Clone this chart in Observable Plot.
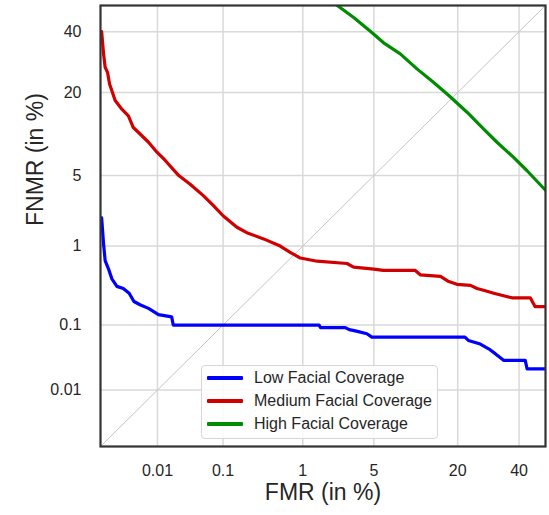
<!DOCTYPE html>
<html><head><meta charset="utf-8">
<script src="https://cdn.jsdelivr.net/npm/d3@7"></script>
<script src="https://cdn.jsdelivr.net/npm/@observablehq/plot@0.6"></script>
<style>
body{margin:0;background:#fff;font-family:"Liberation Sans",Arial,sans-serif;}
#wrap{position:relative;width:549px;height:515px;}
#legend{position:absolute;left:201px;top:365px;width:237px;height:74px;box-sizing:border-box;border:1px solid #d6d6d6;border-radius:4px;background:rgba(255,255,255,0.85);}
.row{position:absolute;left:0;height:20px;display:flex;align-items:center;font-size:16px;color:#262626;white-space:nowrap;}
.sw{display:inline-block;width:36px;height:4px;margin-left:5px;margin-right:11px;border-radius:1px;}
</style></head><body><div id="wrap"><div id="legend"></div></div>
<script>
// ---- data (percent) ----
const seriesNames = ["Low Facial Coverage", "Medium Facial Coverage", "High Facial Coverage"];
const seriesColors = ["#0000ff", "#d00000", "#008c00"];

const lowFMR  = [0.00105, 0.00114, 0.00122, 0.00141, 0.00162, 0.0020, 0.0026, 0.0033, 0.0040, 0.0051, 0.0071, 0.0104, 0.017, 0.018, 1.5, 1.55, 2.75, 3.0, 3.5, 4.35, 4.8, 22, 23, 26.6, 29.3, 31.5, 34.4, 42.3, 43, 50];
const lowFNMR = [2.0, 1.06, 0.68, 0.54, 0.41, 0.33, 0.31, 0.27, 0.21, 0.19, 0.17, 0.14, 0.13, 0.10, 0.10, 0.092, 0.092, 0.086, 0.082, 0.075, 0.067, 0.067, 0.060, 0.053, 0.045, 0.038, 0.030, 0.030, 0.022, 0.022];

const medFMR  = [0.00105, 0.00114, 0.00122, 0.00135, 0.00147, 0.00162, 0.00186, 0.00245, 0.0032, 0.0039, 0.0051, 0.0071, 0.0098, 0.0134, 0.022, 0.033, 0.052, 0.073, 0.10, 0.155, 0.21, 0.345, 0.55, 0.72, 0.94, 1.43, 2.85, 3.3, 5.0, 6.0, 10.6, 11.5, 15.7, 17.7, 19.8, 23.6, 25.6, 28.2, 31, 34.4, 37.4, 44.2, 46, 50];
const medFNMR = [40, 32, 27.5, 25.9, 22.4, 20.5, 17.9, 15.8, 14.3, 11.9, 10.7, 9.3, 7.8, 6.7, 5.0, 4.2, 3.3, 2.65, 2.1, 1.6, 1.4, 1.2, 1.0, 0.85, 0.73, 0.67, 0.63, 0.57, 0.54, 0.52, 0.52, 0.46, 0.44, 0.38, 0.35, 0.34, 0.31, 0.29, 0.27, 0.25, 0.235, 0.235, 0.18, 0.18];

const highFMR  = [2.3, 3.3, 4.8, 6.0, 8.2, 10.9, 14.2, 17.7, 22.6, 27.7, 32.1, 38, 43, 50];
const highFNMR = [50, 45.4, 39.7, 36, 32, 27, 22.8, 19.2, 15.1, 11.6, 9.3, 7.1, 5.5, 3.7];

const tickValues = [0.01, 0.1, 1, 5, 20, 40];
const tickLabels = ["0.01", "0.1", "1", "5", "20", "40"];
const axisDomain = [0.001, 50];
const diagonal = [0.001, 50];
const xLabel = "FMR (in %)";
const yLabel = "FNMR (in %)";

// ---- normal deviate (probit) transform for DET axes ----
function probit(p){
  const a=[-3.969683028665376e+01,2.209460984245205e+02,-2.759285104469687e+02,1.383577518672690e+02,-3.066479806614716e+01,2.506628277459239e+00];
  const b=[-5.447609879822406e+01,1.615858368580409e+02,-1.556989798598866e+02,6.680131188771972e+01,-1.328068155288572e+01];
  const c=[-7.784894002430293e-03,-3.223964580411365e-01,-2.400758277161838e+00,-2.549671010229583e+00,4.374664141464968e+00,2.938163982698783e+00];
  const d=[7.784695709041462e-03,3.224671290700398e-01,2.445134137142996e+00,3.754408661907416e+00];
  const pl=0.02425, ph=1-pl; let q, r;
  if (p < pl) { q=Math.sqrt(-2*Math.log(p)); return (((((c[0]*q+c[1])*q+c[2])*q+c[3])*q+c[4])*q+c[5])/((((d[0]*q+d[1])*q+d[2])*q+d[3])*q+1); }
  if (p > ph) { q=Math.sqrt(-2*Math.log(1-p)); return -(((((c[0]*q+c[1])*q+c[2])*q+c[3])*q+c[4])*q+c[5])/((((d[0]*q+d[1])*q+d[2])*q+d[3])*q+1); }
  q=p-0.5; r=q*q; return (((((a[0]*r+a[1])*r+a[2])*r+a[3])*r+a[4])*r+a[5])*q/(((((b[0]*r+b[1])*r+b[2])*r+b[3])*r+b[4])*r+1);
}
const P = v => probit(v / 100);

const fmrs = [lowFMR, medFMR, highFMR];
const fnmrs = [lowFNMR, medFNMR, highFNMR];
const rows = [];
seriesNames.forEach((n, i) => fmrs[i].forEach((f, j) => rows.push({series: n, fmr: f, fnmr: fnmrs[i][j]})));

const tickPos = tickValues.map(P);
const fmt = d => tickLabels[tickPos.findIndex(t => Math.abs(t - d) < 1e-9)];
const dom = axisDomain.map(P);

const chart = Plot.plot({
  width: 549, height: 515,
  marginLeft: 100, marginRight: 4, marginTop: 5, marginBottom: 69,
  style: {fontFamily: "'Liberation Sans', Arial, sans-serif", background: "white", color: "#262626"},
  x: {type: "linear", domain: dom},
  y: {type: "linear", domain: dom},
  color: {domain: seriesNames, range: seriesColors},
  marks: [
    Plot.gridX(tickPos, {stroke: "#d9d9d9", strokeOpacity: 1, strokeWidth: 1.5}),
    Plot.gridY(tickPos, {stroke: "#d9d9d9", strokeOpacity: 1, strokeWidth: 1.5}),
    Plot.line(diagonal, {x: d => P(d), y: d => P(d), stroke: "#c4c4c4", strokeWidth: 1}),
    Plot.line(rows, {x: d => P(d.fmr), y: d => P(d.fnmr), z: "series", stroke: "series", strokeWidth: 3.2, strokeLinejoin: "round", clip: true}),
    Plot.frame({stroke: "#333", strokeWidth: 2.2}),
    Plot.axisX(tickPos, {tickSize: 0, tickPadding: 18, fontSize: 16, tickFormat: fmt, label: null}),
    Plot.axisY(tickPos, {tickSize: 0, tickPadding: 19, fontSize: 16, tickFormat: fmt, label: null}),
    Plot.text([xLabel], {text: d => d, frameAnchor: "bottom", dy: 53, fontSize: 23, fill: "#262626"}),
    Plot.text([yLabel], {text: d => d, frameAnchor: "left", dx: -65, rotate: -90, fontSize: 23, fill: "#262626"})
  ]
});
const wrap = document.getElementById("wrap");
wrap.insertBefore(chart, wrap.firstChild);

const legend = document.getElementById("legend");
seriesNames.forEach((n, i) => {
  const row = document.createElement("div");
  row.className = "row";
  row.style.top = (1.5 + i * 23.3) + "px";
  const sw = document.createElement("span");
  sw.className = "sw";
  sw.style.background = seriesColors[i];
  const t = document.createElement("span");
  t.textContent = n;
  row.appendChild(sw); row.appendChild(t);
  legend.appendChild(row);
});
</script>
</body></html>
